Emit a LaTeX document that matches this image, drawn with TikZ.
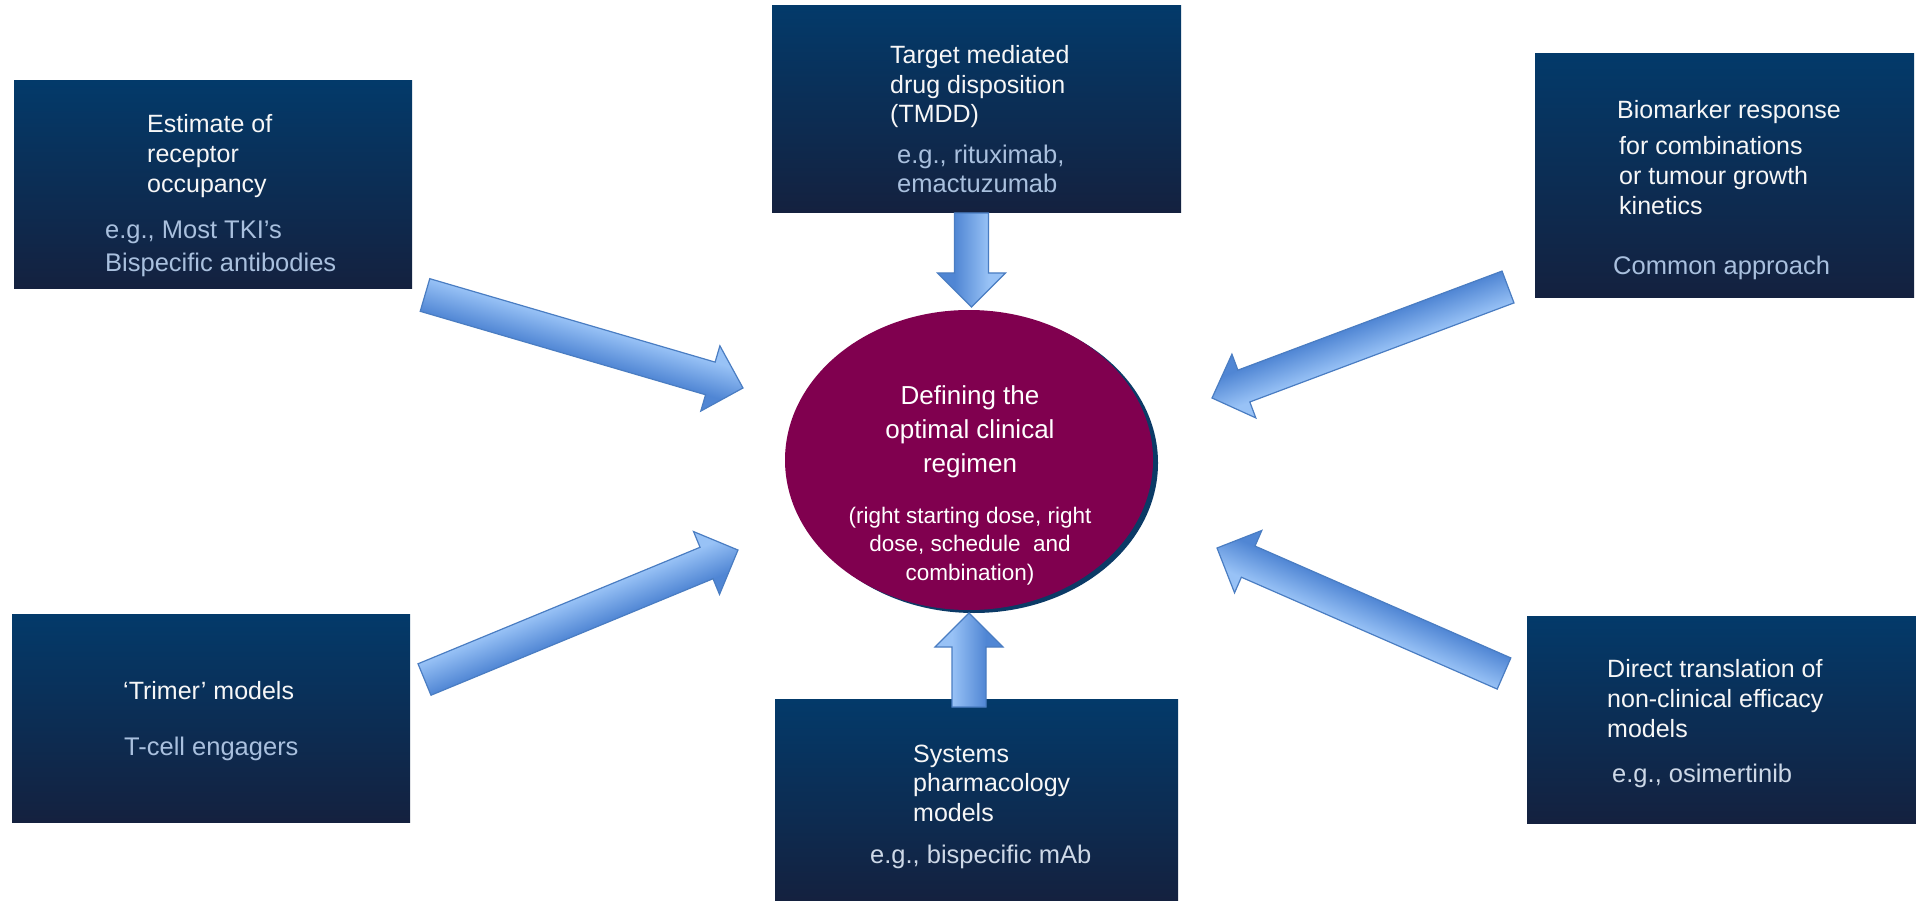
\documentclass[tikz,border=0pt]{standalone}
\usepackage{fontspec}
\setmainfont{Liberation Sans}
\usetikzlibrary{calc,shapes.geometric}

\definecolor{boxtop}{HTML}{033A6A}
\definecolor{boxbot}{HTML}{14213F}
\definecolor{hubfill}{HTML}{80004F}
\definecolor{hubrim}{HTML}{0B3A66}
\definecolor{arrowlight}{HTML}{98C2F6}
\definecolor{arrowdark}{HTML}{5086D4}
\definecolor{arrowline}{HTML}{4A7DC2}
\definecolor{notegrey}{HTML}{A9C0DE}
\definecolor{notepale}{HTML}{CDD8E7}
\definecolor{titlewhite}{HTML}{F7F7F7}

% gradient across the shaft of a block arrow (dark on its right-hand side)
\pgfdeclareverticalshading{arrowshade}{100bp}{color(0bp)=(arrowdark); color(37.5bp)=(arrowdark); color(62.5bp)=(arrowlight); color(100bp)=(arrowlight)}

\tikzset{
  panel/.style={rectangle, inner sep=0pt, top color=boxtop, bottom color=boxbot},
  hubshape/.style={ellipse, inner sep=0pt, minimum width=368pt, minimum height=300pt},
  headline/.style={text=titlewhite, font=\fontsize{25}{30}\selectfont, inner sep=0pt},
  noteline/.style={text=notegrey, font=\fontsize{25.5}{30}\selectfont, inner sep=0pt},
  paleline/.style={text=notepale, font=\fontsize{25.5}{30}\selectfont, inner sep=0pt},
  hubtitle/.style={text=white, font=\fontsize{26}{32}\selectfont, inner sep=0pt},
  hubnote/.style={text=white, font=\fontsize{22.5}{28}\selectfont, inner sep=0pt},
  arrowbody/.style={shade, shading=arrowshade, draw=arrowline, line width=1.2pt, line join=miter},
}

% one text node per line: name, x, first baseline, line step, style, anchor, lines
\newcommand\textlines[7]{%
  \foreach \lineText [count=\k] in {#7}
    \node[#5, anchor=#6] (#1-\k) at (#2, {#3+(\k-1)*#4}) {\lineText};%
}

% block arrow from a tail coordinate to a tip coordinate
\newcommand\blockarrow[2]{%
  \path let \p1=(#1), \p2=(#2) in \pgfextra{%
    \pgfmathsetmacro\arrowtmpa{atan2(\y2-\y1,\x2-\x1)}%
    \pgfmathsetmacro\arrowtmpl{veclen(\x2-\x1,\y2-\y1)}%
    \xdef\arrowangle{\arrowtmpa}\xdef\arrowlength{\arrowtmpl}};
  \begin{scope}[transform canvas={shift={(#1)}, rotate=\arrowangle}]
    \path[arrowbody] (0,17) -- ({\arrowlength-34},17) -- ({\arrowlength-34},34)
      -- (\arrowlength,0) -- ({\arrowlength-34},-34) -- ({\arrowlength-34},-17)
      -- (0,-17) -- cycle;
  \end{scope}%
}

\begin{document}
\begin{tikzpicture}[x=1pt,y=-1pt]
\useasboundingbox (0,0) rectangle (1916,901);
\fill[white] (0,0) rectangle (1916,901);

% central regimen ellipse with its offset rim
\node[hubshape, fill=hubrim] (hubback) at (974,463) {};
\node[hubshape, fill=hubfill] (hub) at (969,460) {};

% surrounding approach panels
\node[panel, minimum width=398pt, minimum height=208pt] (receptor) at (213,185) {};
\node[panel, minimum width=409pt, minimum height=207pt] (tmdd) at (976.5,109.5) {};
\node[panel, minimum width=379pt, minimum height=243pt] (biomarker) at (1724.5,175.5) {};
\node[panel, minimum width=398pt, minimum height=208pt] (trimer) at (211,718) {};
\node[panel, minimum width=403pt, minimum height=202pt] (systems) at (976.5,800) {};
\node[panel, minimum width=389pt, minimum height=207pt] (direct) at (1721.5,719.5) {};

% arrow ends
\coordinate (a1-tail) at (425,295);    \coordinate (a1-tip) at (743,388);
\coordinate (a2-tail) at (971.5,213);  \coordinate (a2-tip) at (971.5,307);
\coordinate (a3-tail) at (1508,287);   \coordinate (a3-tip) at (1212,398);
\coordinate (a4-tail) at (424.5,679.5);\coordinate (a4-tip) at (738,550);
\coordinate (a5-tail) at (969,707);    \coordinate (a5-tip) at (969,613);
\coordinate (a6-tail) at (1504,673.5); \coordinate (a6-tip) at (1217,548);

\blockarrow{a1-tail}{a1-tip}
\blockarrow{a2-tail}{a2-tip}
\blockarrow{a3-tail}{a3-tip}
\blockarrow{a4-tail}{a4-tip}
\blockarrow{a5-tail}{a5-tip}
\blockarrow{a6-tail}{a6-tip}

% panel texts
\textlines{t1}{147}{133}{30}{headline}{base west}{Estimate of, receptor, occupancy}
\textlines{n1}{105}{239}{33}{noteline}{base west}{{e.g., Most TKI’s}, Bispecific antibodies}

\textlines{t2}{890}{64}{29.5}{headline}{base west}{Target mediated, drug disposition, (TMDD)}
\textlines{n2}{897}{164}{29}{noteline}{base west}{{e.g., rituximab,}, emactuzumab}

\textlines{t3a}{1617}{119}{30}{headline}{base west}{Biomarker response}
\textlines{t3}{1619}{155}{30}{headline}{base west}{for combinations, or tumour growth, kinetics}
\textlines{n3}{1613}{275}{30}{noteline}{base west}{Common approach}

\textlines{t4}{123}{699}{30}{headline}{base west}{‘Trimer’ models}
\textlines{n4}{124}{755}{30}{noteline}{base west}{T-cell engagers}

\textlines{t5}{913}{762}{29.5}{headline}{base west}{Systems, pharmacology, models}
\textlines{n5}{870}{863}{30}{paleline}{base west}{{e.g., bispecific mAb}}

\textlines{t6}{1607}{677}{30}{headline}{base west}{Direct translation of, non-clinical efficacy, models}
\textlines{n6}{1612}{782}{30}{paleline}{base west}{{e.g., osimertinib}}

% ellipse texts
\textlines{h}{970}{404}{34}{hubtitle}{base}{Defining the, optimal clinical, regimen}
\textlines{hn}{970}{523}{28.5}{hubnote}{base}{{(right starting dose, right}, {dose, schedule~ and}, combination)}
\end{tikzpicture}
\end{document}
